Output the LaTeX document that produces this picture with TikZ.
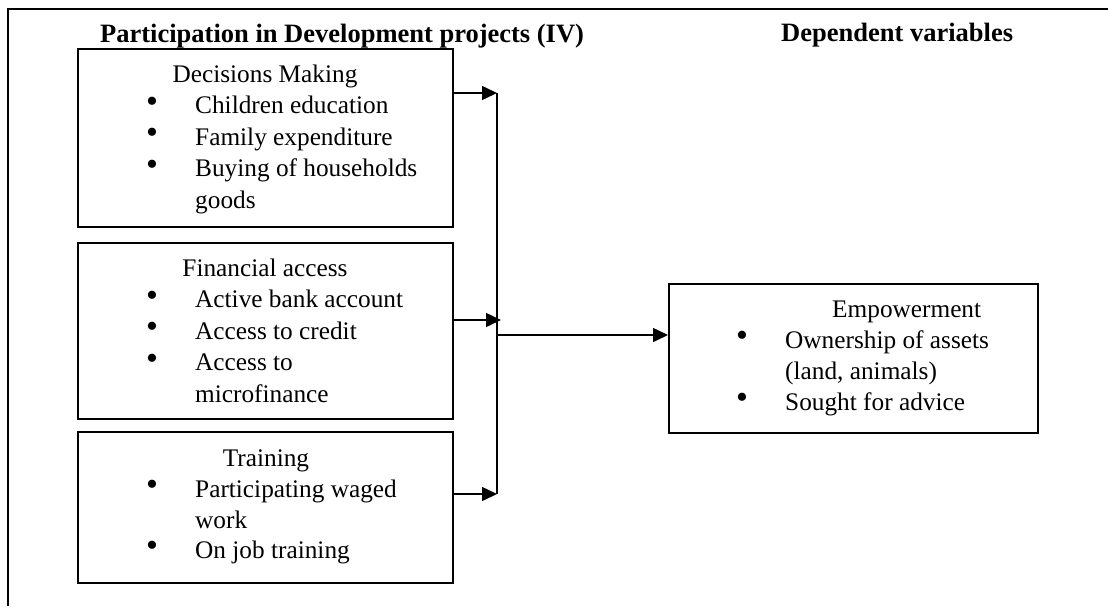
\documentclass[tikz,border=0pt]{standalone}
\usepackage{fontspec}
\setmainfont{Liberation Serif}
\usetikzlibrary{arrows.meta}
\begin{document}
\begin{tikzpicture}[x=1pt,y=-1pt,
  frame/.style={line width=2.2pt},
  box/.style={draw, line width=1.6pt, inner sep=0pt, anchor=north west},
  body/.style={font=\fontsize{25.3}{31.5}\selectfont, inner sep=0pt},
  head/.style={font=\bfseries\fontsize{26.5}{32}\selectfont, inner sep=0pt, anchor=base west},
  item/.style={body, anchor=base west},
  boxtitle/.style={body, anchor=base},
  dot/.style={font=\fontsize{34}{34}\selectfont, inner sep=0pt},
  link/.style={line width=1.5pt, -{Triangle[length=15pt,width=14pt]}},
  rail/.style={line width=1.5pt}
]
\useasboundingbox (0,0) rectangle (1108,606);

% open outer frame (top and left edges)
\draw[frame] (8,606) -- (8,9) -- (1108,9);

% column headings
\node[head] (ivtitle) at (100,42) {Participation in Development projects (IV)};
\node[head] (dvtitle) at (781,41) {Dependent variables};

% independent variable boxes
\node[box, minimum width=375, minimum height=178] (dm) at (77,48) {};
\node[box, minimum width=375, minimum height=176] (fa) at (77,242) {};
\node[box, minimum width=375, minimum height=151] (tr) at (77,431) {};
% dependent variable box
\node[box, minimum width=369, minimum height=149] (emp) at (668,283) {};

% Decisions Making
\node[boxtitle] (dmh) at (265,82) {Decisions Making};
\node[dot] (dmb1) at (152,104.5) {•};
\node[item] (dmi1) at (195,113.5) {Children education};
\node[dot] (dmb2) at (152,136) {•};
\node[item] (dmi2) at (195,145) {Family expenditure};
\node[dot] (dmb3) at (152,167.5) {•};
\node[item] (dmi3) at (195,176.5) {Buying of households};
\node[item] (dmi3b) at (195,208) {goods};

% Financial access
\node[boxtitle] (fah) at (265,276) {Financial access};
\node[dot] (fab1) at (152,298.5) {•};
\node[item] (fai1) at (195,307.5) {Active bank account};
\node[dot] (fab2) at (152,330) {•};
\node[item] (fai2) at (195,339) {Access to credit};
\node[dot] (fab3) at (152,361.5) {•};
\node[item] (fai3) at (195,370.5) {Access to};
\node[item] (fai3b) at (195,402) {microfinance};

% Training
\node[boxtitle] (trh) at (266,466) {Training};
\node[dot] (trb1) at (152,488) {•};
\node[item] (tri1) at (195,497) {Participating waged};
\node[item] (tri1b) at (195,528) {work};
\node[dot] (trb2) at (152,549) {•};
\node[item] (tri2) at (195,558) {On job training};

% Empowerment
\node[item] (emph) at (832,317) {Empowerment};
\node[dot] (empb1) at (742,339) {•};
\node[item] (empi1) at (785,348) {Ownership of assets};
\node[item] (empi1b) at (785,379) {(land, animals)};
\node[dot] (empb2) at (742,401) {•};
\node[item] (empi2) at (785,410) {Sought for advice};

% collecting rail and connectors
\coordinate (r1) at (497,93);
\coordinate (r2) at (501,320);
\coordinate (r3) at (497,494);
\coordinate (hub) at (497,335);
\draw[rail] (r1) -- (r3);
\draw[link] (dm.east |- r1) -- (r1);
\draw[link] (fa.east |- r2) -- (r2);
\draw[link] (tr.east |- r3) -- (r3);
\draw[link] (hub) -- (emp.west |- hub);
\end{tikzpicture}
\end{document}
